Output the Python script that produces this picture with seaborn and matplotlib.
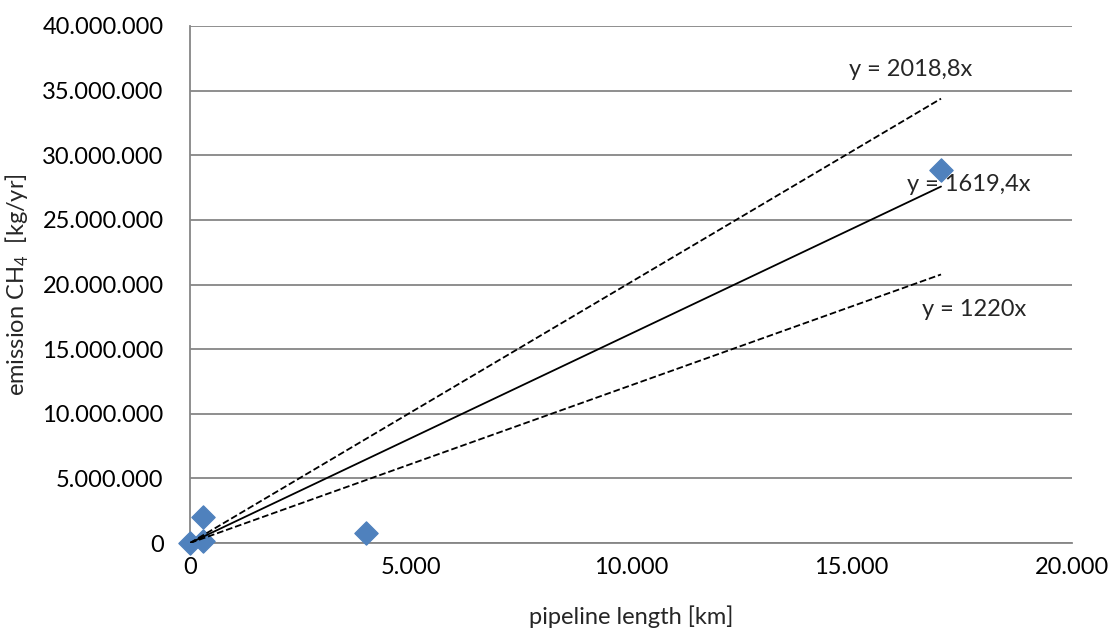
import numpy as np
import pandas as pd
import matplotlib
matplotlib.use('Agg')
import matplotlib.pyplot as plt
from matplotlib.ticker import FuncFormatter, MultipleLocator
import seaborn as sns

# Data ------------------------------------------------------------------------
LENGTH = [0, 300, 300, 3990, 17030]
EMISSION = [0, 150000, 2000000, 770000, 28850000]
SLOPES = [2018.8, 1619.4, 1220]
STYLES = ['--', '-', '--']
LABELS = ['y = 2018,8x', 'y = 1619,4x', 'y = 1220x']
LBL_POS = [(16330, 36600000), (17660, 27750000), (17780, 18100000)]

sns.set_style('white')
plt.rcParams['font.family'] = ['Lato', 'DejaVu Sans']
plt.rcParams['mathtext.fontset'] = 'custom'
plt.rcParams['mathtext.rm'] = 'Lato'

GRY = '#868686'
BLU = '#4F81BD'
FS = 17

(fig, ax) = plt.subplots(figsize=(11.13, 6.30), dpi=100)
ax.set_position([190/1113, 1-543/630, (1072-190)/1113, (543-26)/630])

df = pd.DataFrame({'x': LENGTH, 'y': EMISSION})
sns.scatterplot(data=df, x='x', y='y', ax=ax, marker='D', s=140,
                color=BLU, edgecolor=BLU, zorder=3, clip_on=False)
xFit = np.array([0, max(LENGTH)])
for (sl, ls) in zip(SLOPES, STYLES):
    sns.lineplot(x=xFit, y=sl*xFit, ax=ax, color='black', lw=1.3,
                 linestyle=ls, zorder=4)
for (txt, pos) in zip(LABELS, LBL_POS):
    ax.text(pos[0], pos[1], txt, fontsize=FS, ha='center', va='center',
            zorder=5)

ax.set_xlim(0, 20000)
ax.set_ylim(0, 40000000)
ax.xaxis.set_major_locator(MultipleLocator(5000))
ax.yaxis.set_major_locator(MultipleLocator(5000000))
fmt = FuncFormatter(lambda v, p: '{:,.0f}'.format(v).replace(',', '.'))
ax.xaxis.set_major_formatter(fmt)
ax.yaxis.set_major_formatter(fmt)
ax.tick_params(axis='both', length=0, labelsize=FS, colors='black')
ax.tick_params(axis='y', pad=19)
ax.tick_params(axis='x', pad=10)
ax.grid(axis='y', color=GRY, lw=1.3)
ax.grid(axis='x', visible=False)
for s in ['top', 'right']:
    ax.spines[s].set_visible(False)
for s in ['left', 'bottom']:
    ax.spines[s].set_color(GRY)
    ax.spines[s].set_linewidth(1.3)
ax.set_xlabel('pipeline length [km]', fontsize=FS, labelpad=20)
ax.set_ylabel('emission CH$_4$  [kg/yr]', fontsize=FS, labelpad=8)

fig.savefig('out.png', dpi=100)
